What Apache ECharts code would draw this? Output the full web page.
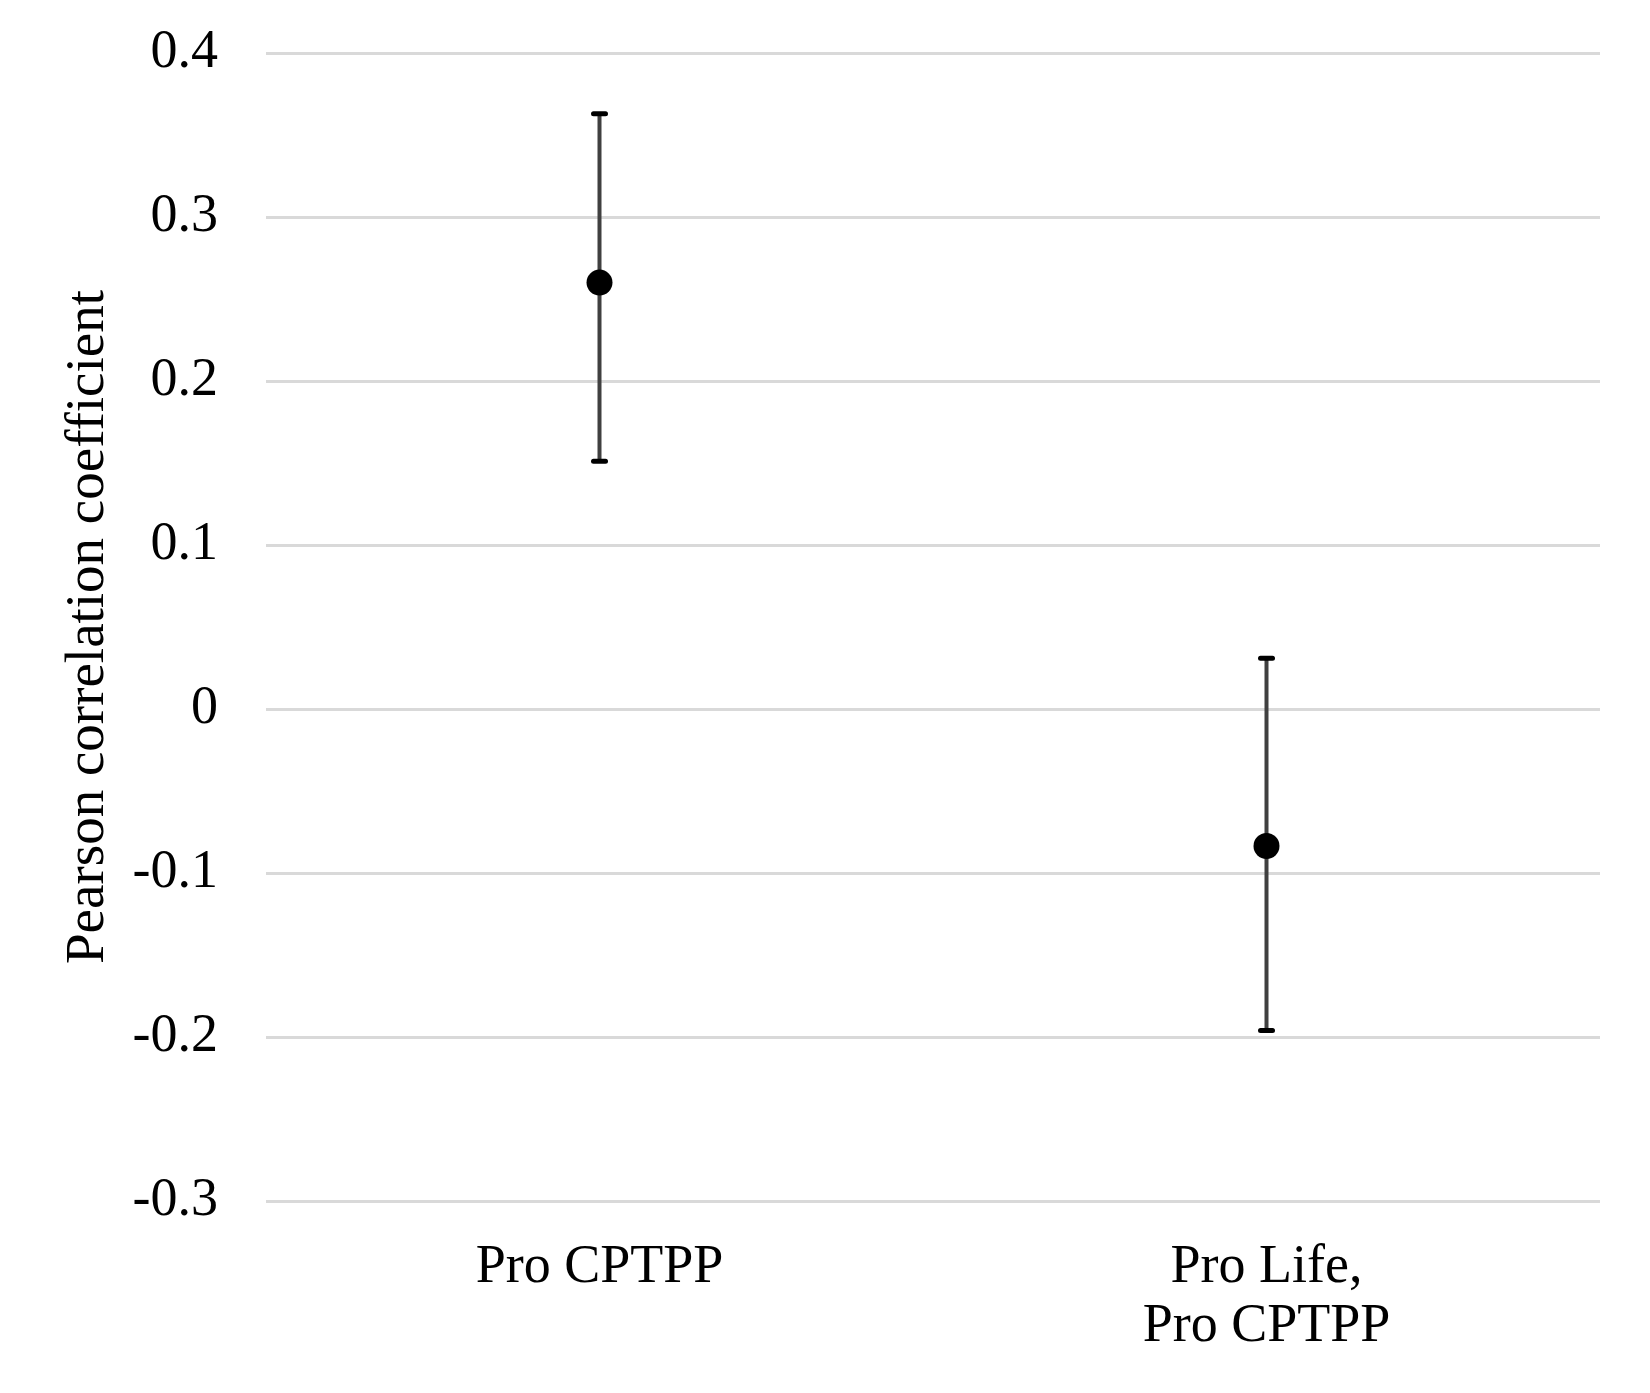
<!DOCTYPE html>
<html>
<head>
<meta charset="utf-8">
<script src="https://cdn.jsdelivr.net/npm/echarts@6/dist/echarts.min.js"></script>
<style>
html,body{margin:0;padding:0;background:#fff;}
#chart{width:1650px;height:1393px;}
</style>
</head>
<body>
<div id="chart"></div>
<script>
var categories = ['Pro CPTPP', 'Pro Life,\nPro CPTPP'];
var coefficients = [0.260, -0.0835];
var lowerBounds = [0.151, -0.196];
var upperBounds = [0.363, 0.031];
var yAxisName = 'Pearson correlation coefficient';

var chart = echarts.init(document.getElementById('chart'));
var fontFamily = '"Liberation Serif", "DejaVu Serif", serif';

var errorData = categories.map(function (c, i) { return [i, lowerBounds[i], upperBounds[i]]; });
var pointData = categories.map(function (c, i) { return [i, coefficients[i]]; });

chart.setOption({
  animation: false,
  backgroundColor: '#ffffff',
  grid: { left: 266, right: 50, top: 53, bottom: 192, containLabel: false },
  xAxis: {
    type: 'category',
    data: categories,
    axisLine: { show: false },
    axisTick: { show: false },
    splitLine: { show: false },
    axisLabel: {
      color: '#000', fontFamily: fontFamily, fontSize: 54, lineHeight: 59, margin: 37
    }
  },
  yAxis: {
    type: 'value',
    min: -0.3, max: 0.4, interval: 0.1,
    name: yAxisName,
    nameLocation: 'middle',
    nameGap: 150,
    nameRotate: 90,
    nameTextStyle: { color: '#000', fontFamily: fontFamily, fontSize: 55 },
    axisLine: { show: false },
    axisTick: { show: false },
    splitLine: { show: true, lineStyle: { color: '#d9d9d9', width: 3 } },
    axisLabel: {
      color: '#000', fontFamily: fontFamily, fontSize: 54, margin: 48,
      formatter: function (v) {
        var r = Math.round(v * 10) / 10;
        return r === 0 ? '0' : r.toFixed(1);
      }
    }
  },
  series: [
    {
      type: 'custom',
      data: errorData,
      z: 2,
      renderItem: function (params, api) {
        var x = api.value(0);
        var lo = api.coord([x, api.value(1)]);
        var hi = api.coord([x, api.value(2)]);
        var capHalf = 6;
        return {
          type: 'group',
          children: [
            { type: 'line', shape: { x1: lo[0], y1: lo[1], x2: hi[0], y2: hi[1] },
              style: { stroke: '#404040', lineWidth: 4 } },
            { type: 'line', shape: { x1: hi[0] - capHalf, y1: hi[1], x2: hi[0] + capHalf, y2: hi[1] },
              style: { stroke: '#000', lineWidth: 5, lineCap: 'round' } },
            { type: 'line', shape: { x1: lo[0] - capHalf, y1: lo[1], x2: lo[0] + capHalf, y2: lo[1] },
              style: { stroke: '#000', lineWidth: 5, lineCap: 'round' } }
          ]
        };
      }
    },
    {
      type: 'scatter',
      data: pointData,
      z: 3,
      symbol: 'circle',
      symbolSize: 26,
      itemStyle: { color: '#000', opacity: 1 }
    }
  ]
});
</script>
</body>
</html>
